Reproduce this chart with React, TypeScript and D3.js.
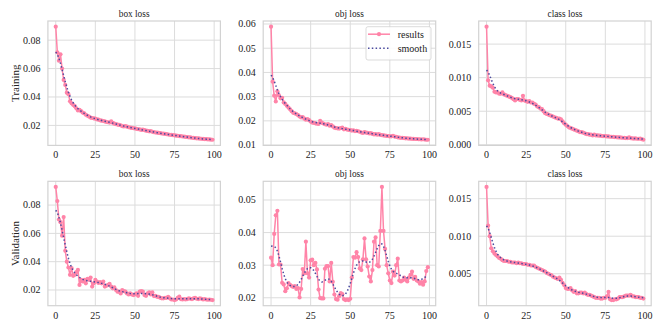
import React from "react";
import * as d3 from "d3";

// ---------- data ----------
const epochs: number[] = d3.range(100);
const xTicks = [0, 25, 50, 75, 100];
const colTitles = ["box loss", "obj loss", "class loss"];
const rowLabels = ["Training", "Validation"];
const legendLabels = ["results", "smooth"];

const trainBox = [
  0.0895, 0.0715, 0.0655, 0.07, 0.06, 0.052, 0.0485, 0.043, 0.042, 0.037,
  0.0355, 0.0345, 0.0335, 0.032, 0.0305, 0.031, 0.03, 0.029, 0.0285, 0.0275,
  0.0268, 0.0262, 0.0255, 0.0252, 0.025, 0.0247, 0.0243, 0.024, 0.0236, 0.0233,
  0.0231, 0.0228, 0.0224, 0.0222, 0.022, 0.0228, 0.0218, 0.0212, 0.0209, 0.0206,
  0.0203, 0.0201, 0.0194, 0.0193, 0.0195, 0.0191, 0.0187, 0.0185, 0.0182, 0.018,
  0.0179, 0.0176, 0.0173, 0.0172, 0.0168, 0.017, 0.0167, 0.0163, 0.0161, 0.0158,
  0.016, 0.0155, 0.0152, 0.015, 0.0149, 0.0147, 0.0145, 0.0143, 0.0142, 0.014,
  0.0138, 0.0136, 0.0134, 0.0133, 0.0131, 0.013, 0.0128, 0.0127, 0.0125, 0.0124,
  0.0122, 0.0121, 0.0119, 0.0118, 0.0116, 0.0115, 0.0113, 0.0112, 0.011, 0.0109,
  0.0108, 0.0107, 0.0106, 0.0105, 0.0104, 0.0103, 0.0102, 0.0101, 0.01, 0.0099,
];

const trainObj = [
  0.0589, 0.0362, 0.0304, 0.028, 0.0322, 0.0305, 0.0293, 0.0295, 0.0276, 0.027,
  0.0262, 0.0255, 0.0248, 0.024, 0.0233, 0.0231, 0.0228, 0.0224, 0.0218, 0.0214,
  0.0216, 0.0209, 0.0205, 0.0207, 0.0203, 0.0197, 0.0193, 0.0192, 0.019, 0.0188,
  0.0187, 0.02, 0.0193, 0.0189, 0.0186, 0.0184, 0.0187, 0.018, 0.0182, 0.0177,
  0.0172, 0.017, 0.0169, 0.0168, 0.017, 0.0172, 0.0165, 0.0167, 0.0164, 0.0163,
  0.0162, 0.016, 0.0161, 0.0158, 0.0159, 0.0157, 0.0155, 0.0152, 0.015, 0.0154,
  0.0151, 0.015, 0.0148, 0.0149, 0.0146, 0.0144, 0.0145, 0.0143, 0.0145, 0.0142,
  0.0141, 0.014, 0.0139, 0.0138, 0.0137, 0.0136, 0.0136, 0.0138, 0.0135, 0.0134,
  0.0132, 0.0131, 0.013, 0.013, 0.0129, 0.0128, 0.0128, 0.0127, 0.0127, 0.0126,
  0.0126, 0.0125, 0.0125, 0.0124, 0.0124, 0.0123, 0.0124, 0.0123, 0.0122, 0.0122,
];

const trainCls = [
  0.0176, 0.0096, 0.0088, 0.0087, 0.0085, 0.0079, 0.0078, 0.0078, 0.0076, 0.0076,
  0.0078, 0.0075, 0.0074, 0.0073, 0.0072, 0.0071, 0.007, 0.0068, 0.0066, 0.0068,
  0.0068, 0.0067, 0.0066, 0.0073, 0.0066, 0.0065, 0.0064, 0.0065, 0.0063, 0.0063,
  0.0061, 0.006, 0.0057, 0.0056, 0.0054, 0.0053, 0.005, 0.0047, 0.0046, 0.0045,
  0.0044, 0.0043, 0.0042, 0.0041, 0.004, 0.0039, 0.0039, 0.0038, 0.0035, 0.0032,
  0.003, 0.0028, 0.0026, 0.0025, 0.0024, 0.0023, 0.0022, 0.0021, 0.002, 0.0019,
  0.0019, 0.0018, 0.0017, 0.0016, 0.0016, 0.0015, 0.0015, 0.0014, 0.0015, 0.0014,
  0.0014, 0.00135, 0.00135, 0.0013, 0.0013, 0.00128, 0.00125, 0.00125, 0.0012, 0.0012,
  0.00118, 0.00115, 0.00112, 0.0011, 0.0011, 0.00108, 0.00105, 0.00103, 0.001, 0.001,
  0.0011, 0.00098, 0.00095, 0.00093, 0.00095, 0.0009, 0.0009, 0.00092, 0.00085, 0.00075,
];

const valBox = [
  0.0928, 0.0828, 0.0698, 0.0679, 0.0584, 0.0715, 0.0477, 0.04, 0.0359, 0.0307,
  0.0354, 0.03, 0.0307, 0.0326, 0.0342, 0.0236, 0.0271, 0.026, 0.0271, 0.0247,
  0.0278, 0.0272, 0.0288, 0.0224, 0.0247, 0.0271, 0.026, 0.025, 0.0255, 0.0247,
  0.026, 0.0224, 0.023, 0.0237, 0.0243, 0.0224, 0.0212, 0.0218, 0.02, 0.0188,
  0.0188, 0.0176, 0.02, 0.0193, 0.0188, 0.0176, 0.0169, 0.0176, 0.0169, 0.0164,
  0.0169, 0.0176, 0.0159, 0.0188, 0.0193, 0.0188, 0.0164, 0.0159, 0.0176, 0.0183,
  0.0169, 0.0183, 0.0157, 0.0159, 0.0152, 0.0152, 0.0145, 0.0141, 0.0141, 0.0145,
  0.0145, 0.0152, 0.0141, 0.0133, 0.0133, 0.0129, 0.0133, 0.0145, 0.0153, 0.0136,
  0.0133, 0.0136, 0.0133, 0.0136, 0.0141, 0.0138, 0.0136, 0.0141, 0.0145, 0.0138,
  0.0136, 0.0141, 0.0138, 0.0133, 0.0136, 0.0133, 0.0131, 0.0133, 0.0131, 0.0129,
];

const valObj = [
  0.0323, 0.03, 0.0396, 0.0453, 0.0467, 0.0302, 0.0302, 0.0246, 0.0241, 0.022,
  0.0229, 0.0245, 0.024, 0.0236, 0.0233, 0.0236, 0.0227, 0.023, 0.0201, 0.0227,
  0.0288, 0.0275, 0.0372, 0.0275, 0.0262, 0.0315, 0.0317, 0.03, 0.0307, 0.0287,
  0.0225, 0.0199, 0.0198, 0.0198, 0.0289, 0.0297, 0.0297, 0.025, 0.0307, 0.0249,
  0.021, 0.0196, 0.0194, 0.0205, 0.0214, 0.0211, 0.0196, 0.0193, 0.0195, 0.0193,
  0.0197, 0.0262, 0.0325, 0.0323, 0.034, 0.0325, 0.029, 0.0285, 0.0318, 0.0382,
  0.0318, 0.0296, 0.0265, 0.025, 0.0285, 0.0372, 0.0385, 0.03, 0.0296, 0.0405,
  0.054, 0.0405, 0.035, 0.03, 0.0275, 0.0253, 0.0245, 0.028, 0.0268, 0.03,
  0.032, 0.0253, 0.025, 0.0253, 0.0262, 0.0255, 0.025, 0.0262, 0.027, 0.028,
  0.0258, 0.0264, 0.0253, 0.025, 0.0243, 0.0248, 0.024, 0.025, 0.0282, 0.0294,
];

const valCls = [
  0.01656, 0.0114, 0.01, 0.0084, 0.008, 0.0077, 0.0075, 0.0073, 0.0071, 0.007,
  0.0068, 0.0067, 0.0067, 0.0067, 0.0066, 0.0066, 0.0065, 0.0065, 0.0065, 0.0064,
  0.0065, 0.0064, 0.0064, 0.0063, 0.0063, 0.0063, 0.0062, 0.0062, 0.0061, 0.0061,
  0.0061, 0.0059, 0.0058, 0.0057, 0.0056, 0.0055, 0.0054, 0.0053, 0.0051, 0.005,
  0.0049, 0.0048, 0.0046, 0.0045, 0.0044, 0.0043, 0.0045, 0.0042, 0.0038, 0.0035,
  0.0031, 0.003, 0.003, 0.0031, 0.0028, 0.0026, 0.0027, 0.0024, 0.0024, 0.0025,
  0.0025, 0.0024, 0.0025, 0.0023, 0.0022, 0.0022, 0.0021, 0.002, 0.0019, 0.0018,
  0.0018, 0.0018, 0.0017, 0.0017, 0.0018, 0.0018, 0.002, 0.0026, 0.0016, 0.0015,
  0.0015, 0.0016, 0.0016, 0.0017, 0.0019, 0.0019, 0.0019, 0.002, 0.0021, 0.0021,
  0.0021, 0.0022, 0.002, 0.002, 0.0019, 0.0019, 0.0019, 0.0018, 0.0018, 0.0017,
];

const yTicksTrainBox = [0.02, 0.04, 0.06, 0.08];
const yTicksTrainObj = [0.01, 0.02, 0.03, 0.04, 0.05, 0.06];
const yTicksTrainCls = [0.0, 0.005, 0.01, 0.015];
const yTicksValBox = [0.02, 0.04, 0.06, 0.08];
const yTicksValObj = [0.02, 0.03, 0.04, 0.05];
const yTicksValCls = [0.005, 0.01, 0.015];

// ---------- style / layout ----------
const W = 664;
const H = 332;
const FONT = "Liberation Serif, Times New Roman, serif";
const PINK = "#ff84a8";
const BLUE = "#4a4a9e";
const GRID = "#dcdcdc";
const FRAME = "#d2d2d2";
const TEXT = "#222222";

const colLeft = [47.9, 263.2, 478.7];
const plotW = 172.5;
const rowTop = [21, 181.3];
const plotH = 124.4;

// gaussian smoothing (scipy gaussian_filter1d, sigma=3, reflect mode)
function gaussSmooth(y: number[], sigma = 3): number[] {
  const r = Math.round(4 * sigma);
  const w = d3.range(-r, r + 1).map((k) => Math.exp((-0.5 * k * k) / (sigma * sigma)));
  const s = d3.sum(w);
  const n = y.length;
  return y.map((_, i) => {
    let acc = 0;
    for (let k = -r; k <= r; k++) {
      let j = i + k;
      if (j < 0) j = -j - 1;
      if (j >= n) j = 2 * n - j - 1;
      acc += y[j] * w[k + r];
    }
    return acc / s;
  });
}

type PanelSpec = {
  row: number;
  col: number;
  values: number[];
  yTicks: number[];
  fmt: string;
  legend?: boolean;
};

const panels: PanelSpec[] = [
  { row: 0, col: 0, values: trainBox, yTicks: yTicksTrainBox, fmt: ".2f" },
  { row: 0, col: 1, values: trainObj, yTicks: yTicksTrainObj, fmt: ".2f", legend: true },
  { row: 0, col: 2, values: trainCls, yTicks: yTicksTrainCls, fmt: ".3f" },
  { row: 1, col: 0, values: valBox, yTicks: yTicksValBox, fmt: ".2f" },
  { row: 1, col: 1, values: valObj, yTicks: yTicksValObj, fmt: ".2f" },
  { row: 1, col: 2, values: valCls, yTicks: yTicksValCls, fmt: ".3f" },
];

function Panel({ p }: { p: PanelSpec }) {
  const left = colLeft[p.col];
  const top = rowTop[p.row];
  const xDomMin = d3.min(epochs)!;
  const xDomMax = d3.max(epochs)!;
  const xPad = (xDomMax - xDomMin) * 0.05;
  const x = d3.scaleLinear().domain([xDomMin - xPad, xDomMax + xPad]).range([left, left + plotW]);
  const [ymin, ymax] = d3.extent(p.values) as [number, number];
  const yPad = (ymax - ymin) * 0.05;
  const y = d3.scaleLinear().domain([ymin - yPad, ymax + yPad]).range([top + plotH, top]);
  const smooth = gaussSmooth(p.values, 3);
  const line = d3
    .line<number>()
    .x((_, i) => x(epochs[i]))
    .y((d) => y(d));
  const fmt = d3.format(p.fmt);
  const clipId = `clip-${p.row}-${p.col}`;
  return (
    <g>
      <defs>
        <clipPath id={clipId}>
          <rect x={left} y={top} width={plotW} height={plotH} />
        </clipPath>
      </defs>
      {xTicks.map((t) => (
        <line key={"gx" + t} x1={x(t)} x2={x(t)} y1={top} y2={top + plotH} stroke={GRID} strokeWidth={1} />
      ))}
      {p.yTicks.map((t) => (
        <line key={"gy" + t} x1={left} x2={left + plotW} y1={y(t)} y2={y(t)} stroke={GRID} strokeWidth={1} />
      ))}
      <rect x={left} y={top} width={plotW} height={plotH} fill="none" stroke={FRAME} strokeWidth={1.2} />
      {xTicks.map((t) => (
        <text key={"tx" + t} x={x(t)} y={top + plotH + 12.8} fontSize={10} textAnchor="middle" fill={TEXT} fontFamily={FONT}>
          {t}
        </text>
      ))}
      {p.yTicks.map((t) => (
        <text key={"ty" + t} x={left - 7.5} y={y(t) + 3.4} fontSize={10} textAnchor="end" fill={TEXT} fontFamily={FONT}>
          {fmt(t)}
        </text>
      ))}
      <text x={left + plotW / 2} y={top - 4.4} fontSize={9.3} textAnchor="middle" fill={TEXT} fontFamily={FONT}>
        {colTitles[p.col]}
      </text>
      <g clipPath={`url(#${clipId})`}>
        <path d={line(p.values) || ""} fill="none" stroke={PINK} strokeWidth={1.5} strokeLinejoin="round" />
        {p.values.map((v, i) => (
          <circle key={i} cx={x(epochs[i])} cy={y(v)} r={2.1} fill={PINK} />
        ))}
        <path d={line(smooth) || ""} fill="none" stroke={BLUE} strokeWidth={1.5} strokeDasharray="1.5 2.3" />
      </g>
      {p.col === 0 && (
        <text
          transform={`translate(${14.5},${top + plotH / 2}) rotate(-90)`}
          x={0}
          y={4}
          fontSize={11}
          textAnchor="middle"
          fill={TEXT}
          fontFamily={FONT}
        >
          {rowLabels[p.row]}
        </text>
      )}
      {p.legend && (
        <g>
          <rect x={366} y={26.7} width={65} height={33.3} rx={2} fill="white" fillOpacity={0.85} stroke={FRAME} strokeWidth={0.8} />
          <line x1={368} x2={390} y1={34.2} y2={34.2} stroke={PINK} strokeWidth={1.5} />
          <circle cx={379} cy={34.2} r={2.1} fill={PINK} />
          <text x={397.7} y={37.6} fontSize={10} fill={TEXT} fontFamily={FONT}>
            {legendLabels[0]}
          </text>
          <line x1={368} x2={390} y1={48.2} y2={48.2} stroke={BLUE} strokeWidth={1.5} strokeDasharray="1.5 2.3" />
          <text x={397.7} y={51.6} fontSize={10} fill={TEXT} fontFamily={FONT}>
            {legendLabels[1]}
          </text>
        </g>
      )}
    </g>
  );
}

export default function App() {
  return (
    <svg
      width={W}
      height={H}
      viewBox={`0 0 ${W} ${H}`}
      style={{ position: "absolute", left: 0, top: 0, background: "white" }}
    >
      <rect x={0} y={0} width={W} height={H} fill="white" />
      {panels.map((p) => (
        <Panel key={`${p.row}-${p.col}`} p={p} />
      ))}
    </svg>
  );
}
